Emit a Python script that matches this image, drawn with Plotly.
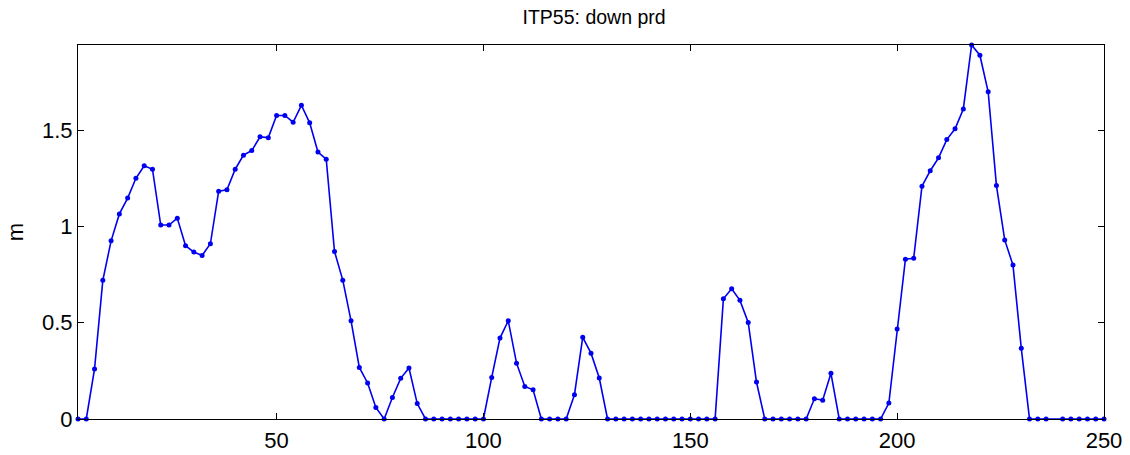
import plotly.graph_objects as go

x_vals = [2, 4, 6, 8, 10, 12, 14, 16, 18, 20, 22, 24, 26, 28, 30, 32, 34, 36, 38, 40,
          42, 44, 46, 48, 50, 52, 54, 56, 58, 60, 62, 64, 66, 68, 70, 72, 74, 76, 78, 80,
          82, 84, 86, 88, 90, 92, 94, 96, 98, 100, 102, 104, 106, 108, 110, 112, 114, 116, 118, 120,
          122, 124, 126, 128, 130, 132, 134, 136, 138, 140, 142, 144, 146, 148, 150, 152, 154, 156, 158, 160,
          162, 164, 166, 168, 170, 172, 174, 176, 178, 180, 182, 184, 186, 188, 190, 192, 194, 196, 198, 200,
          202, 204, 206, 208, 210, 212, 214, 216, 218, 220, 222, 224, 226, 228, 230, 232, 234, 236,
          240, 242, 244, 246, 248, 250]
y_vals = [0, 0, 0.26, 0.72, 0.925, 1.065, 1.147, 1.25, 1.315, 1.297, 1.007, 1.007, 1.043, 0.9, 0.867, 0.849, 0.91, 1.183, 1.19, 1.297,
          1.37, 1.394, 1.465, 1.461, 1.576, 1.576, 1.541, 1.629, 1.538, 1.386, 1.349, 0.87, 0.721, 0.51, 0.268, 0.187, 0.06, 0, 0.112, 0.211,
          0.265, 0.08, 0, 0, 0, 0, 0, 0, 0, 0, 0.216, 0.42, 0.51, 0.29, 0.169, 0.152, 0, 0, 0, 0,
          0.126, 0.424, 0.342, 0.213, 0, 0, 0, 0, 0, 0, 0, 0, 0, 0, 0, 0, 0, 0, 0.624, 0.676,
          0.616, 0.501, 0.192, 0, 0, 0, 0, 0, 0, 0.105, 0.098, 0.237, 0, 0, 0, 0, 0, 0, 0.083, 0.467,
          0.83, 0.835, 1.209, 1.289, 1.356, 1.451, 1.507, 1.61, 1.942, 1.889, 1.699, 1.212, 0.93, 0.799, 0.368, 0, 0, 0,
          0, 0, 0, 0, 0, 0]

title_text = "ITP55: down prd"
y_label = "m"
x_ticks = [50, 100, 150, 200, 250]
y_ticks = [0, 0.5, 1, 1.5]
y_tick_text = ["0", "0.5", "1", "1.5"]

FONT = "Liberation Sans, Arial, Helvetica, sans-serif"

fig = go.Figure()
fig.add_trace(go.Scatter(
    x=x_vals, y=y_vals, mode="lines+markers",
    line=dict(color="#0000f0", width=1.6),
    marker=dict(color="#0000f0", size=5),
    cliponaxis=False, showlegend=False,
))

axis_common = dict(
    showline=True, linecolor="black", linewidth=1.2, mirror="ticks",
    ticks="inside", ticklen=6, tickcolor="black", tickwidth=1,
    showgrid=False, zeroline=False, automargin=False,
    tickfont=dict(family=FONT, size=22, color="black"),
)

fig.update_layout(
    width=1130, height=455,
    margin=dict(l=78, r=26, t=45, b=36),
    paper_bgcolor="white", plot_bgcolor="white",
    title=dict(text=title_text, x=0.503, xref="paper", xanchor="center",
               y=1 - 17 / 455, yanchor="middle",
               font=dict(family=FONT, size=19.5, color="black")),
    xaxis=dict(range=[2, 250], tickvals=x_ticks, ticklabelstandoff=1, **axis_common),
    yaxis=dict(range=[0, 1.942], tickvals=y_ticks, ticktext=y_tick_text,
               title=dict(text=y_label, standoff=12,
                          font=dict(family=FONT, size=22, color="black")),
               **axis_common),
)

fig.write_html("out.html")
